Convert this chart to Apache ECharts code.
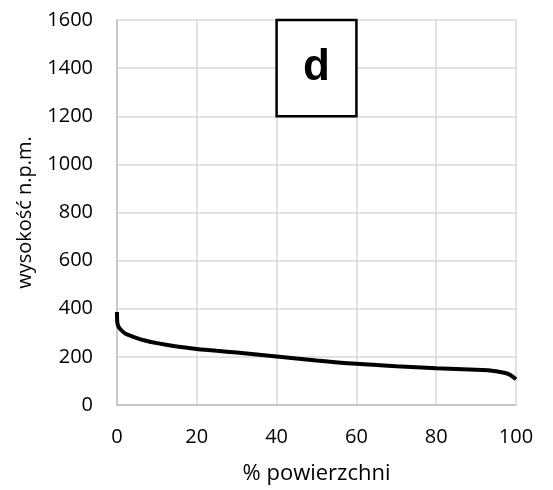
<!DOCTYPE html>
<html><head><meta charset="utf-8">
<script src="https://cdn.jsdelivr.net/npm/echarts@6/dist/echarts.min.js"></script>
<style>html,body{margin:0;padding:0;background:#fff}#c{width:553px;height:490px}</style>
</head><body><div id="c"></div>
<script>
const xPct = [0, 0.1, 0.5, 1, 2, 3, 5, 7, 10, 15, 20, 25, 30, 40, 50, 60, 70, 80, 90, 93, 95, 97, 98, 99, 100];
const height = [387, 340, 322, 312, 298, 290, 278, 268, 257, 243, 233, 225, 218, 202, 185, 171, 161, 153, 147, 144, 140, 134, 129, 120, 107];
const xTicks = [0, 20, 40, 60, 80, 100];
const yTicks = [0, 200, 400, 600, 800, 1000, 1200, 1400, 1600];
const panelLabel = 'd';
const panelBox = [[40, 1200], [60, 1600]];

const font = '"Open Sans", sans-serif';
const chart = echarts.init(document.getElementById('c'));
chart.setOption({
  animation: false,
  grid: { left: 117, right: 37, top: 20, bottom: 85 },
  xAxis: {
    type: 'value', min: xTicks[0], max: xTicks[xTicks.length - 1], interval: 20,
    name: '% powierzchni', nameLocation: 'middle', nameGap: 58,
    nameTextStyle: { fontFamily: font, fontSize: 22, color: '#000' },
    axisLine: { show: true, lineStyle: { color: '#bfbfbf', width: 1.5 } },
    axisTick: { show: false },
    axisLabel: { fontFamily: font, fontSize: 20, color: '#000', margin: 22, formatter: v => String(v) },
    splitLine: { show: true, lineStyle: { color: '#d9d9d9', width: 1.5 } }
  },
  yAxis: {
    type: 'value', min: yTicks[0], max: yTicks[yTicks.length - 1], interval: 200,
    name: 'wysokość n.p.m.', nameLocation: 'middle', nameGap: 82,
    nameTextStyle: { fontFamily: font, fontSize: 20, color: '#000' },
    axisLine: { show: true, lineStyle: { color: '#bfbfbf', width: 1.5 } },
    axisTick: { show: false },
    axisLabel: { fontFamily: font, fontSize: 20, color: '#000', margin: 24, formatter: v => String(v) },
    splitLine: { show: true, lineStyle: { color: '#d9d9d9', width: 1.5 } }
  },
  series: [{
    type: 'line',
    data: xPct.map((x, i) => [x, height[i]]),
    smooth: 0.3,
    showSymbol: false,
    lineStyle: { color: '#000', width: 4 },
    z: 3,
    markArea: {
      silent: true,
      itemStyle: { color: '#fff', borderColor: '#000', borderWidth: 2.5, opacity: 1 },
      label: {
        show: true, position: 'inside', formatter: panelLabel,
        fontFamily: 'Liberation Sans, Arial, sans-serif', fontWeight: 'bold', fontSize: 44, color: '#000'
      },
      data: [[{ coord: panelBox[0] }, { coord: panelBox[1] }]]
    }
  }]
});
</script></body></html>
